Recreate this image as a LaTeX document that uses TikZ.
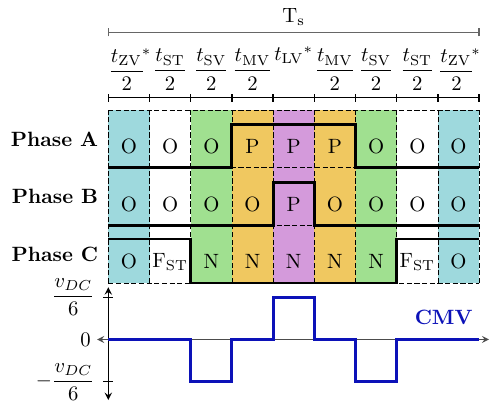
\documentclass[tikz,border=0pt]{standalone}
\usepackage{amsmath}
\definecolor{zvcol}{HTML}{9ED9DD}
\definecolor{stcol}{HTML}{FFFFFF}
\definecolor{svcol}{HTML}{A0E090}
\definecolor{mvcol}{HTML}{F0C860}
\definecolor{lvcol}{HTML}{D49ADB}
\definecolor{cmvblue}{HTML}{0C12B8}
\newcommand{\hangstar}{{}^{\makebox[0pt][l]{$\scriptstyle *$}}}
\tikzset{
  wave/.style={line width=1.4pt, line join=miter},
  gridline/.style={thin, dash pattern=on 2.5pt off 1.2pt},
  phaselabel/.style={anchor=east, font=\bfseries},
}
\begin{document}
\begin{tikzpicture}[x=0.7cm, y=0.7cm, thick, every node/.style={font=\normalsize}]
    \useasboundingbox (-2.629,-7.112) rectangle (9.264,2.670);
    % switching intervals
    \foreach \c [count=\i from 0] in {zvcol,stcol,svcol,mvcol,lvcol,mvcol,svcol,stcol,zvcol}
        \fill[\c] (\i,0) rectangle (\i+1,-4.2);
    \draw[gridline] (0,0) grid[xstep=1, ystep=1.4] (9,-4.2);
    % period and interval times
    \draw[black!60, line width=0.7pt] (0,1.886) -- (9,1.886);
    \draw[black!60, line width=0.7pt] (0,1.786) -- (0,1.986) (9,1.786) -- (9,1.986);
    \node (ts) at (4.5,2.25) {$\mathrm{T_s}$};
    \draw[line width=0.6pt] (0,0.3) -- (9,0.3);
    \foreach \i in {0,...,9}
        \draw[line width=0.6pt] (\i,0.2) -- (\i,0.4);
    \node (tzv1) at (0.45,0.98) {$\dfrac{t_{\mathrm{ZV}}\hangstar}{2}$};
    \node (tst1) at (1.5,0.98) {$\dfrac{t_{\mathrm{ST}}}{2}$};
    \node (tsv1) at (2.5,0.98) {$\dfrac{t_{\mathrm{SV}}}{2}$};
    \node (tmv1) at (3.5,0.98) {$\dfrac{t_{\mathrm{MV}}}{2}$};
    \node (tlv)  at (4.5,1.33) {$t_{\mathrm{LV}}{}^*$};
    \node (tmv2) at (5.5,0.98) {$\dfrac{t_{\mathrm{MV}}}{2}$};
    \node (tsv2) at (6.5,0.98) {$\dfrac{t_{\mathrm{SV}}}{2}$};
    \node (tst2) at (7.5,0.98) {$\dfrac{t_{\mathrm{ST}}}{2}$};
    \node (tzv2) at (8.45,0.98) {$\dfrac{t_{\mathrm{ZV}}\hangstar}{2}$};
    % phase states
    \node[phaselabel] (pha) at (-0.06,-0.7) {Phase A};
    \node[phaselabel] (phb) at (-0.06,-2.1) {Phase B};
    \node[phaselabel] (phc) at (-0.06,-3.5) {Phase C};
    \foreach \s [count=\i from 0] in {O,O,O,P,P,P,O,O,O}
        \node (a\i) at (\i+0.5,-0.88) {\s};
    \foreach \s [count=\i from 0] in {O,O,O,O,P,O,O,O,O}
        \node (b\i) at (\i+0.5,-2.28) {\s};
    \foreach \s [count=\i from 0] in {O,{F$_{\mathrm{ST}}$},N,N,N,N,N,{F$_{\mathrm{ST}}$},O}
        \node (c\i) at (\i+0.5,-3.68) {\s};
    \draw[wave] (0,-1.4) -- (3,-1.4) -- (3,-0.36) -- (6,-0.36) -- (6,-1.4) -- (9,-1.4);
    \draw[wave] (0,-2.8) -- (4,-2.8) -- (4,-1.76) -- (5,-1.76) -- (5,-2.8) -- (9,-2.8);
    \draw[wave] (0,-3.13) -- (2,-3.13) -- (2,-4.2) -- (7,-4.2) -- (7,-3.13) -- (9,-3.13);
    % common-mode voltage
    \draw[<->, >=stealth, line width=0.6pt] (0,-4.3) -- (0,-7.04);
    \draw[<->, >=stealth, line width=0.5pt, black!70] (-0.27,-5.57) -- (9.24,-5.57);
    \draw[line width=0.5pt] (-0.12,-4.54) -- (0.12,-4.54) (-0.12,-6.6) -- (0.12,-6.6);
    \node[anchor=east] (vp) at (-0.14,-4.54) {$\dfrac{v_{DC}}{6}$};
    \node[anchor=east] (vz) at (-0.24,-5.57) {$0$};
    \node[anchor=east] (vn) at (-0.14,-6.6) {$-\dfrac{v_{DC}}{6}$};
    \draw[wave, cmvblue] (0,-5.57) -- (2,-5.57) -- (2,-6.6) -- (3,-6.6) -- (3,-5.57) -- (4,-5.57)
        -- (4,-4.54) -- (5,-4.54) -- (5,-5.57) -- (6,-5.57) -- (6,-6.6) -- (7,-6.6) -- (7,-5.57) -- (9,-5.57);
    \node[cmvblue, font=\bfseries] (cmv) at (8.14,-5.04) {CMV};
\end{tikzpicture}
\end{document}
